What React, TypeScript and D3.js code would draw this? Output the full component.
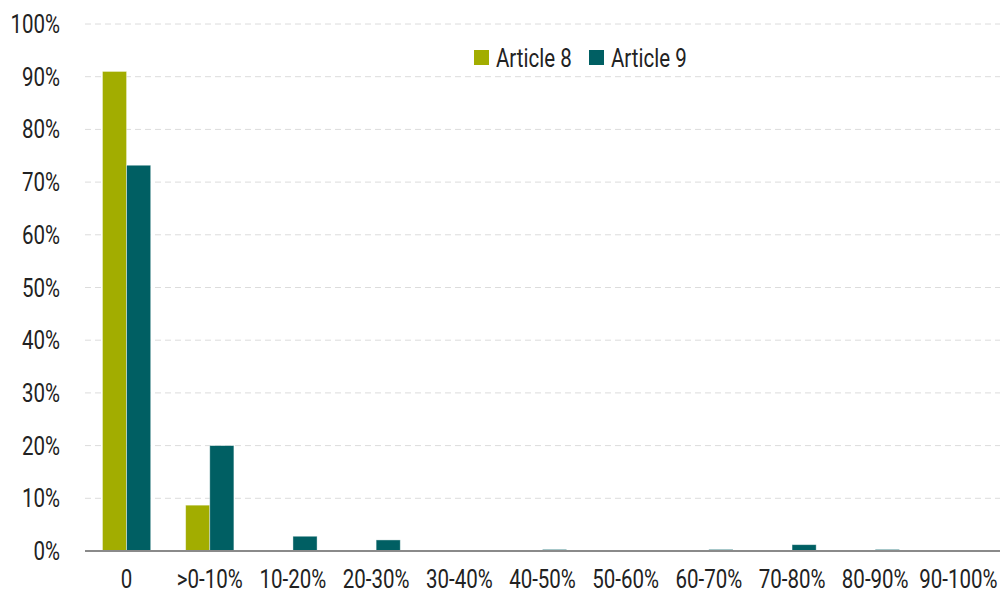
import React from "react";
import * as d3 from "d3";

const categories = ["0", ">0-10%", "10-20%", "20-30%", "30-40%", "40-50%", "50-60%", "60-70%", "70-80%", "80-90%", "90-100%"];
const article8 = [91.0, 8.7, 0.1, 0.1, 0.1, 0.1, 0, 0, 0, 0, 0.1];
const article9 = [73.2, 20.0, 2.8, 2.1, 0, 0.3, 0, 0.3, 1.2, 0.3, 0];
const yTicks = [0, 10, 20, 30, 40, 50, 60, 70, 80, 90, 100];
const seriesNames = ["Article 8", "Article 9"];
const colors = ["#a2ad00", "#005f63"];

const W = 1003;
const H = 596;
const margin = { left: 85, right: 3, top: 24, bottom: 45 };
const FONT = "Roboto, 'DejaVu Sans Condensed', sans-serif";
const SX = 0.82;

// Narrow text: Roboto squeezed horizontally to read as a condensed face
function CText(props: { x: number; y: number; anchor?: "start" | "middle" | "end"; dy?: string; children: React.ReactNode }) {
  return (
    <g transform={`translate(${props.x},${props.y}) scale(${SX},1)`}>
      <text x={0} y={0} dy={props.dy} textAnchor={props.anchor ?? "start"} fontSize={25} fontWeight={400} fill="#222">
        {props.children}
      </text>
    </g>
  );
}

export default function App() {
  const x = d3
    .scaleBand<string>()
    .domain(categories)
    .range([margin.left, W - margin.right])
    .paddingInner(0.42)
    .paddingOuter(0.21);
  const y = d3.scaleLinear().domain([0, 100]).range([H - margin.bottom, margin.top]);
  const half = x.bandwidth() / 2;
  const series = [article8, article9];

  return (
    <svg width={W} height={H} style={{ position: "absolute", left: 0, top: 0, fontFamily: FONT }}>
      <rect width={W} height={H} fill="#fff" />
      {yTicks.map((t) => (
        <g key={t}>
          {t > 0 && (
            <line
              x1={margin.left}
              x2={W - margin.right}
              y1={y(t)}
              y2={y(t)}
              stroke="#dcdcdc"
              strokeDasharray="6 4"
              strokeWidth={1}
            />
          )}
          <CText x={60} y={y(t)} dy="0.36em" anchor="end">
            {t}%
          </CText>
        </g>
      ))}
      {categories.map((c, i) => (
        <g key={c}>
          {series.map((s, k) => {
            const v = s[i];
            if (v <= 0) return null;
            const top = y(v);
            return (
              <rect
                key={k}
                x={(x(c) as number) + k * half}
                y={top}
                width={half}
                height={y(0) - top}
                fill={colors[k]}
                stroke="#ffffff"
                strokeOpacity={0.5}
                strokeWidth={0.8}
              />
            );
          })}
          <CText x={(x(c) as number) + half} y={H - 8} anchor="middle">
            {c}
          </CText>
        </g>
      ))}
      <line x1={margin.left} x2={W - margin.right} y1={y(0)} y2={y(0)} stroke="#8a8a8a" strokeWidth={2} />
      {seriesNames.map((n, k) => (
        <g key={n} transform={`translate(${474 + k * 115},50)`}>
          <rect width={15} height={15} fill={colors[k]} />
          <CText x={22} y={7.5} dy="0.36em">
            {n}
          </CText>
        </g>
      ))}
    </svg>
  );
}
